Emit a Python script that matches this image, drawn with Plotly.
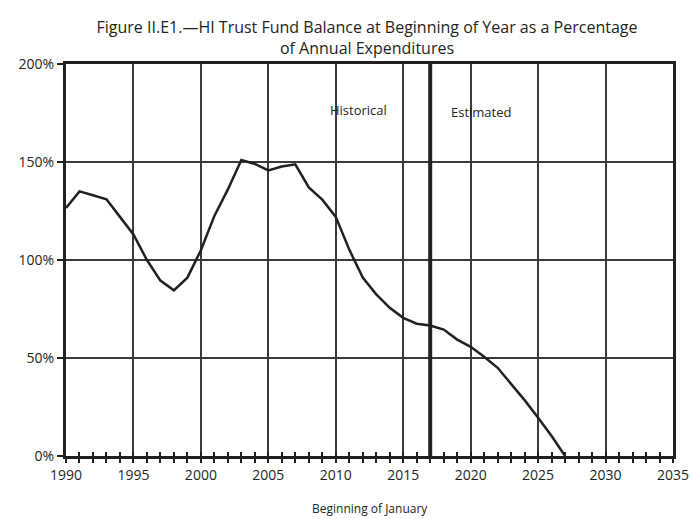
import plotly.graph_objects as go

years = list(range(1990, 2028))
percent = [126.5, 135.0, 133.0, 131.0, 122.0, 113.0, 100.0, 89.5, 84.5, 91.0,
           105.0, 122.5, 136.0, 151.0, 149.0, 145.7, 147.7, 148.8, 137.0, 130.8,
           122.0, 105.3, 91.0, 82.5, 75.6, 70.5, 67.5, 66.6, 64.5, 59.4,
           55.7, 50.6, 45.0, 36.8, 28.5, 19.5, 10.2, 0.0]

x_ticks = [1990, 1995, 2000, 2005, 2010, 2015, 2020, 2025, 2030, 2035]
y_ticks = [0, 50, 100, 150, 200]
y_tick_text = ["0%", "50%", "100%", "150%", "200%"]
split_year = 2017

FONT = "'Open Sans', 'Noto Sans', sans-serif"
INK = "#231f20"

fig = go.Figure()
fig.add_trace(go.Scatter(x=years, y=percent, mode="lines",
                         line=dict(color=INK, width=2.5), showlegend=False,
                         hoverinfo="skip"))

fig.add_shape(type="line", xref="x", yref="paper", x0=split_year, x1=split_year,
              y0=0, y1=1, line=dict(color=INK, width=4), layer="above")

fig.add_annotation(x=2011.7, y=176.5, xref="x", yref="y", text="Historical",
                   showarrow=False, font=dict(family=FONT, size=13, color=INK))
fig.add_annotation(x=2020.8, y=175.5, xref="x", yref="y", text="Estimated",
                   showarrow=False, font=dict(family=FONT, size=13, color=INK))
fig.add_annotation(x=0.5, y=-0.133, xref="paper", yref="paper",
                   text="Beginning of January", showarrow=False, yanchor="middle",
                   font=dict(family=FONT, size=12, color=INK))

fig.update_layout(
    width=692, height=519,
    margin=dict(l=66, r=19, t=64, b=63),
    paper_bgcolor="white", plot_bgcolor="white",
    title=dict(text="Figure II.E1.—HI Trust Fund Balance at Beginning of Year as a Percentage<br>of Annual Expenditures",
               x=367 / 692, xanchor="center", y=1 - 33 / 519, yanchor="top",
               font=dict(family=FONT, size=16, color=INK)),
    font=dict(family=FONT, color=INK),
    xaxis=dict(range=[1990, 2035], tickvals=x_ticks, ticktext=[str(v) for v in x_ticks],
               showgrid=True, gridcolor="#3a3a3a", gridwidth=1.5,
               showline=True, linecolor=INK, linewidth=3, mirror=True,
               ticks="outside", ticklen=4, tickwidth=1.5, tickcolor=INK,
               minor=dict(dtick=1, tick0=1990, ticks="outside", ticklen=4,
                          tickwidth=1.5, tickcolor=INK, showgrid=False),
               tickfont=dict(family=FONT, size=14, color=INK),
               zeroline=False, fixedrange=True, automargin=False),
    xaxis2=dict(range=[1990, 2035], overlaying="x", showgrid=False,
                showticklabels=False, side="bottom", anchor="y",
                ticks="inside", dtick=1, tick0=1990, ticklen=4, tickwidth=1.5,
                tickcolor=INK, showline=False, zeroline=False, automargin=False),
    yaxis=dict(range=[0, 200], tickvals=y_ticks, ticktext=y_tick_text,
               showgrid=True, gridcolor="#3a3a3a", gridwidth=1.5,
               showline=True, linecolor=INK, linewidth=3, mirror=True,
               ticks="outside", ticklen=6, tickwidth=1.5, tickcolor=INK,
               tickfont=dict(family=FONT, size=14, color=INK),
               zeroline=False, fixedrange=True, automargin=False),
)
# invisible trace to activate xaxis2 for inside crossing ticks
fig.add_trace(go.Scatter(x=[1990], y=[None], xaxis="x2", yaxis="y",
                         showlegend=False, hoverinfo="skip"))

fig.write_html("out.html", config={"displayModeBar": False},
               post_script="document.body.style.margin='0px';document.body.style.overflow='hidden';")
